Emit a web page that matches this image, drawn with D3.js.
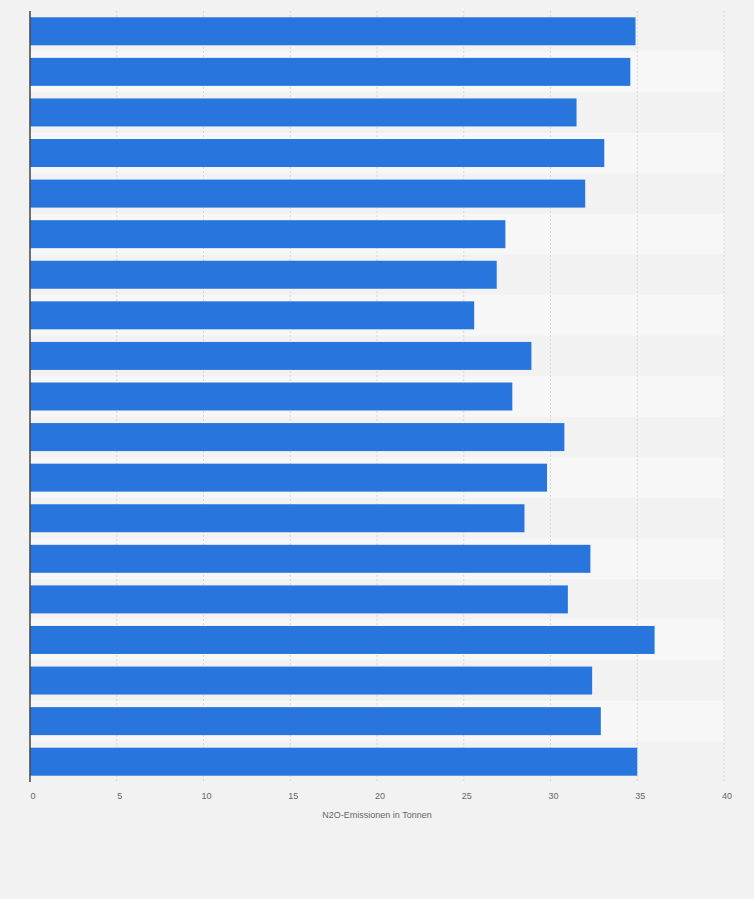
<!DOCTYPE html>
<html><head><meta charset="utf-8">
<script src="https://cdn.jsdelivr.net/npm/d3@7"></script>
<style>body{margin:0;background:#f2f2f2;}svg{display:block;font-family:"Liberation Sans",Arial,sans-serif;}</style>
</head><body><svg id="c" width="754" height="899"></svg>
<script>
const categories = ["2000","2001","2002","2003","2004","2005","2006","2007","2008","2009","2010","2011","2012","2013","2014","2015","2016","2017","2018"];
const values = [34.9,34.6,31.5,33.1,32.0,27.4,26.9,25.6,28.9,27.8,30.8,29.8,28.5,32.3,31.0,36.0,32.4,32.9,35.0];
const ticks = [0,5,10,15,20,25,30,35,40];
const axisTitle = "N2O-Emissionen in Tonnen";

const svg = d3.select("#c");
svg.append("rect").attr("width",754).attr("height",899).attr("fill","#f2f2f2");
const x = d3.scaleLinear().domain([0,40]).range([30,724]);
const y = d3.scaleBand().domain(categories).range([11,782]).paddingInner(0).paddingOuter(0);
// stripes
svg.selectAll(".st").data(categories.filter((d,i)=>i%2===1)).enter().append("rect")
  .attr("x",30).attr("width",724-30).attr("y",d=>y(d)).attr("height",y.bandwidth()).attr("fill","#f7f7f7");
// grid
svg.selectAll(".g").data(ticks.slice(1)).enter().append("line")
  .attr("x1",d=>x(d)).attr("x2",d=>x(d)).attr("y1",11).attr("y2",782)
  .attr("stroke","#d8d8d8").attr("stroke-dasharray","2,2");
// bars
const bh = 28;
svg.selectAll(".b").data(values).enter().append("rect")
  .attr("x",x(0)).attr("y",(d,i)=>y(categories[i])+(y.bandwidth()-bh)/2)
  .attr("width",d=>x(d)-x(0)).attr("height",bh).attr("fill","#2876dd");
// axis line
svg.append("line").attr("x1",30).attr("x2",30).attr("y1",11).attr("y2",782).attr("stroke","#444").attr("stroke-width",1.5);
// tick labels
svg.selectAll(".t").data(ticks).enter().append("text")
  .attr("x",d=>x(d)+3).attr("y",799).attr("text-anchor","middle")
  .attr("font-size",9).attr("fill","#666").text(d=>d);
svg.append("text").attr("x",377).attr("y",818).attr("text-anchor","middle")
  .attr("font-size",9).attr("fill","#666").text(axisTitle);
</script></body></html>
